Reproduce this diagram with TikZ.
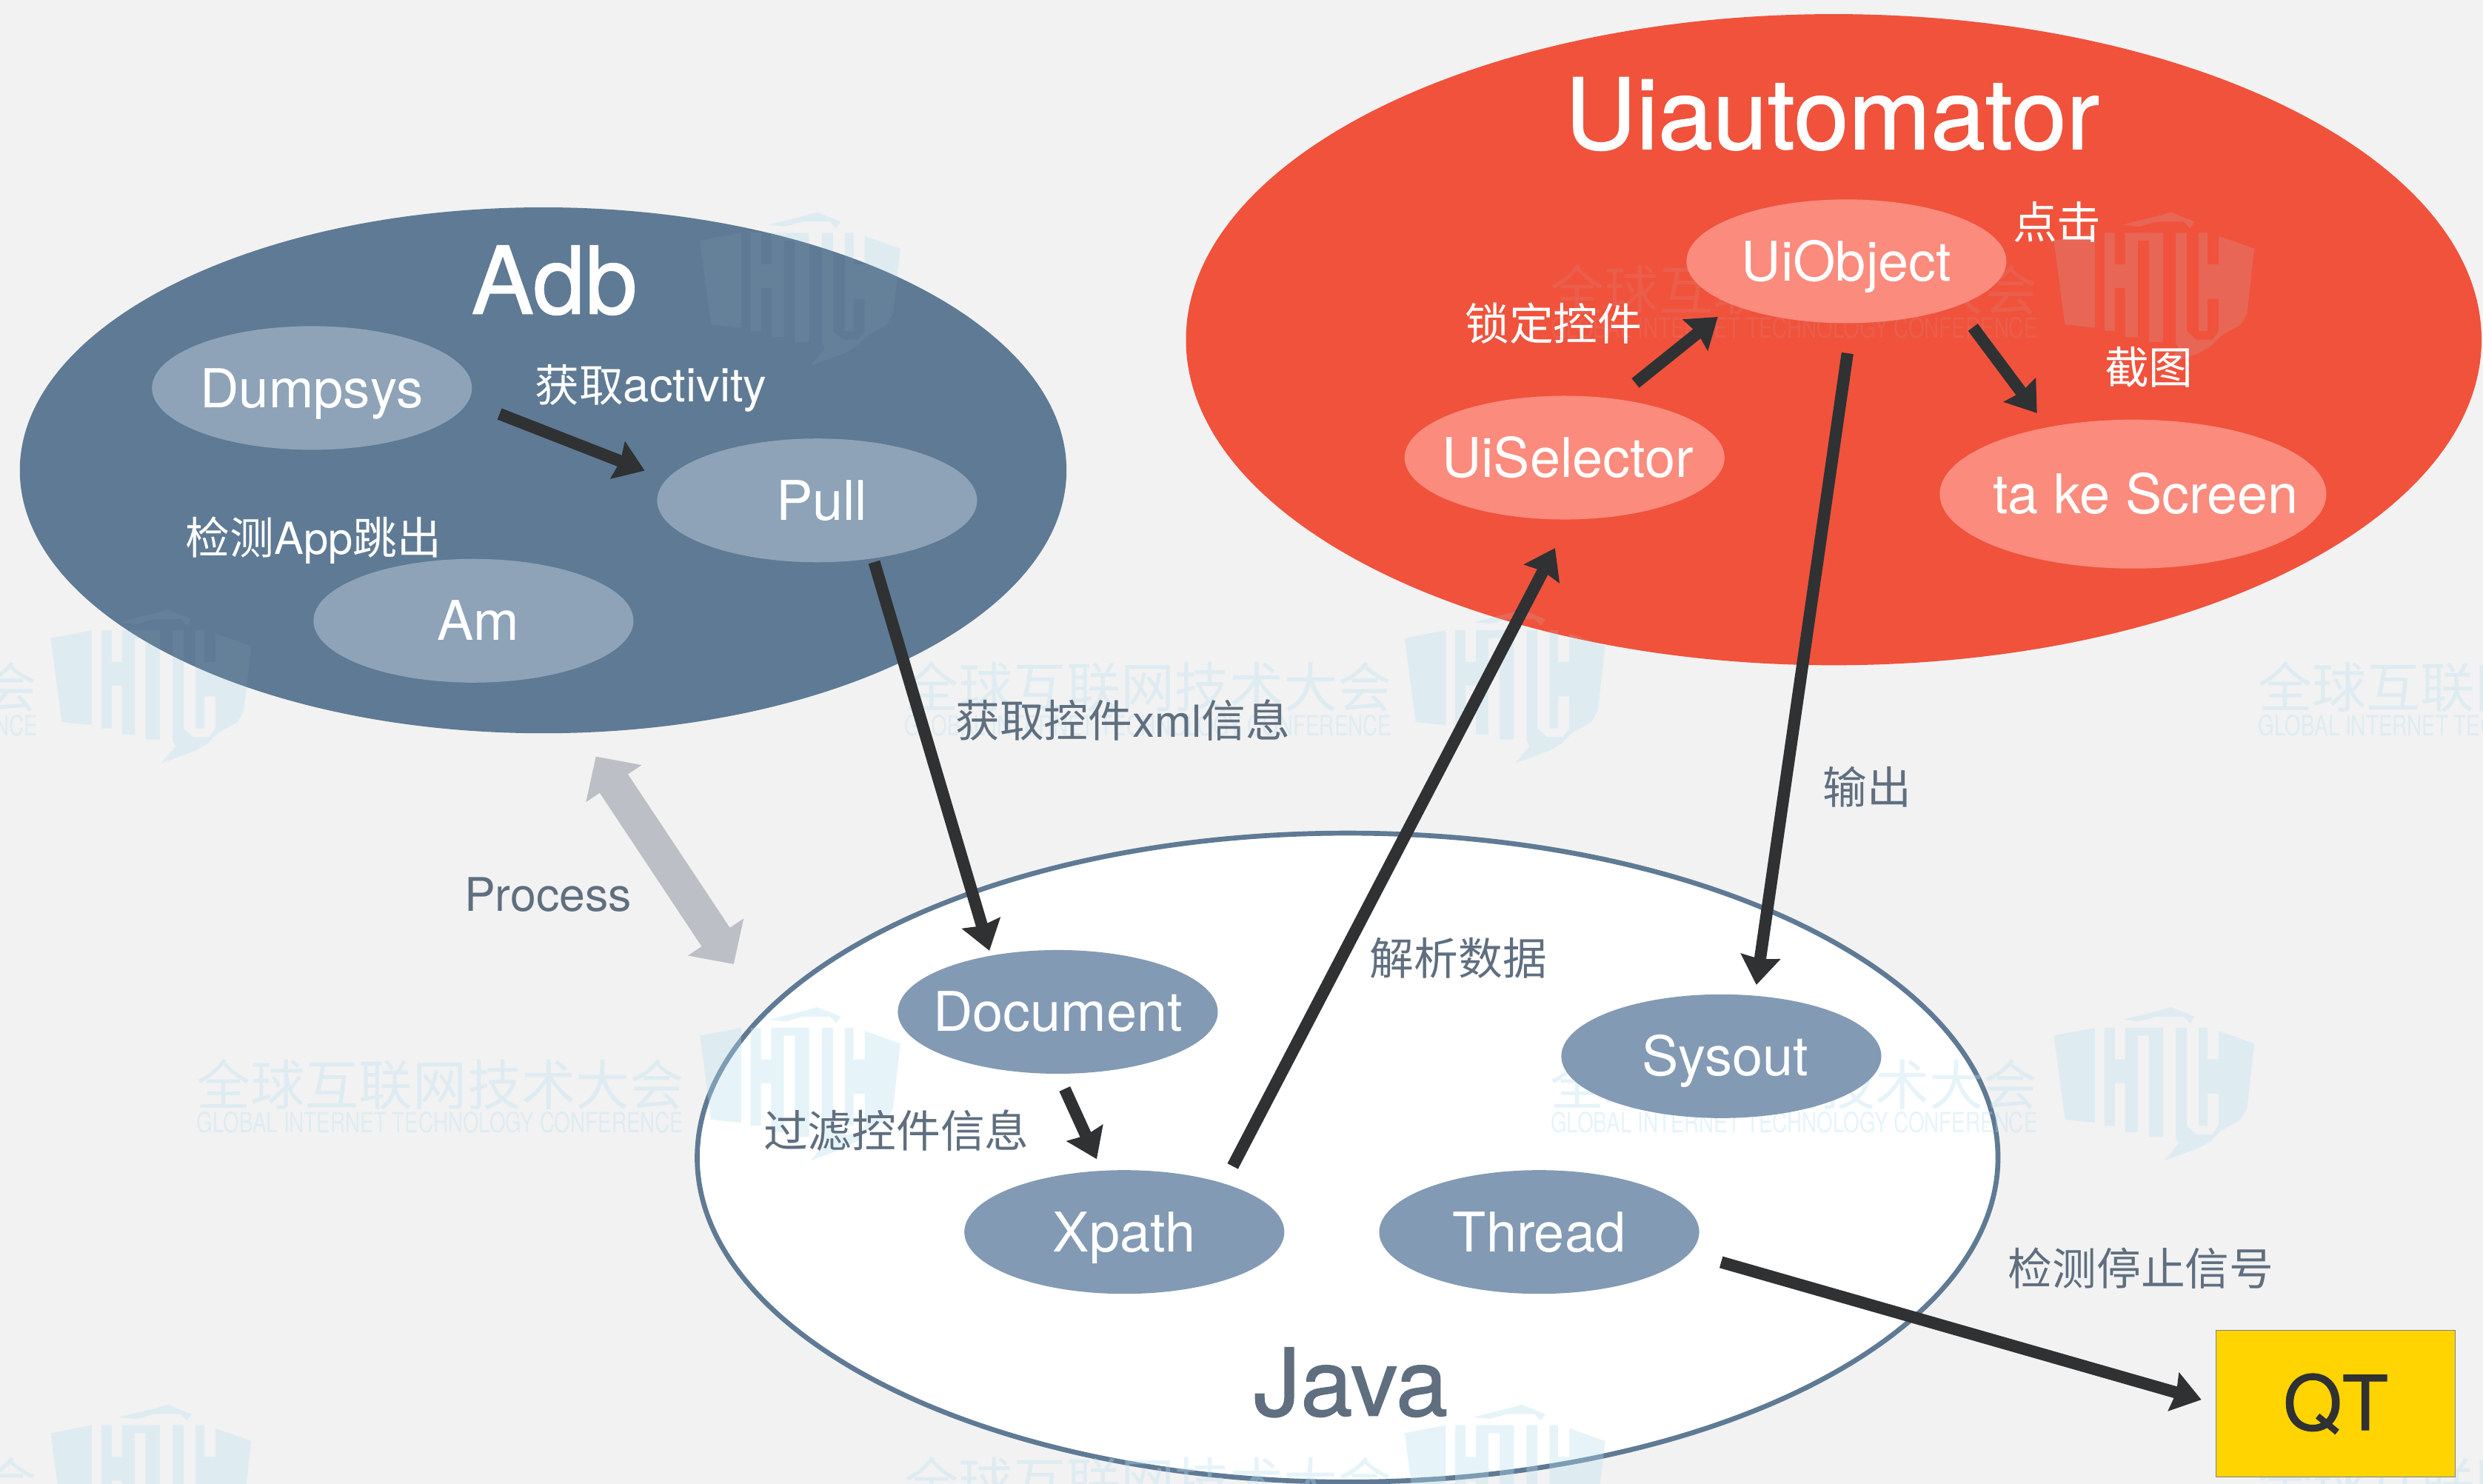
\documentclass[tikz,border=0pt]{standalone}
\usepackage{fontspec}
\setmainfont{TeX Gyre Heros}
\newfontfamily\cjk{Noto Sans CJK SC}
\newfontfamily\titlefont[FakeBold=1]{TeX Gyre Heros}
\usetikzlibrary{shapes.geometric,arrows.meta}

\definecolor{pagebg}{HTML}{F2F2F2}
\definecolor{adbblue}{HTML}{5F7A94}
\definecolor{adbinner}{HTML}{8EA3B8}
\definecolor{javainner}{HTML}{839AB4}
\definecolor{uired}{HTML}{F0523C}
\definecolor{uiinner}{HTML}{FA8B7D}
\definecolor{labelgray}{HTML}{5F6F80}
\definecolor{arrowdark}{HTML}{2F3133}
\definecolor{processgray}{HTML}{BCC0C6}
\definecolor{qtyellow}{HTML}{FFD400}
\definecolor{markblue}{HTML}{B9E1F2}

\newcommand{\ovaltext}[1]{\makebox[0pt]{#1}}
\newcommand{\marklogo}[3]{%
  \fill[markblue,opacity=#3,shift={(#1,#2)}]
    (-63,-31) -- (-37,-36) -- (-37,24) -- (-56,22) -- cycle
    (-31,-36) rectangle (-24.5,26)
    (-24.5,-16) rectangle (-18,-1)
    (-18,-36) rectangle (-10,30)
    (-10,-36) rectangle (-3,-31)
    (-3,-36) rectangle (6,33)
    (14,-36) rectangle (21,26)
    (-20,-41) -- (4,-47) -- (11,-49) -- (26,-43) -- (23,-39) -- (19,-43) -- (2,-43) -- (-9,-40) -- cycle
    (28.5,-36) rectangle (34,26)
    (41,-34) -- (63.6,-26) -- (59,15) -- (55,22) -- (42.6,29) -- (36.3,35.4) -- (28.5,40) -- (6.7,48) -- (16,37) -- (14,34) -- (14,26) -- (21,26) -- (27,31.5) -- (37,31.5) -- (41,26) -- (41,5.8) -- (34,5.8) -- (34,-16) -- (41,-16) -- cycle;}

\tikzset{
  bigoval/.style={ellipse,inner sep=0pt,outer sep=0pt},
  oval/.style={ellipse,inner sep=0pt,outer sep=0pt,minimum width=4.32cm,minimum height=1.67cm,
    text=white,text height=15pt,text depth=0pt,font=\fontsize{21}{25}\selectfont},
  adboval/.style={oval,fill=adbinner},
  javaoval/.style={oval,fill=javainner},
  uioval/.style={oval,fill=uiinner},
  titletext/.style={font=\titlefont\fontsize{36}{42}\selectfont},
  lightlabel/.style={text=white,font=\fontsize{17}{21}\selectfont},
  darklabel/.style={text=labelgray,font=\fontsize{17}{21}\selectfont},
  flow/.style={-{Stealth[length=11pt,width=15pt,inset=1pt]},line width=4.6pt,draw=arrowdark},
  processarrow/.style={{Triangle[length=12.5pt,width=25pt]}-{Triangle[length=12.5pt,width=25pt]},
    line width=13pt,draw=processgray},
  markcn/.style={text=markblue,font=\cjk\fontsize{20.8}{24}\selectfont},
  marken/.style={text=markblue},
}

\begin{document}
\begin{tikzpicture}[x=0.02138cm,y=-0.02138cm]

      \useasboundingbox (0,0) rectangle (1568,937);
      \clip (0,0) rectangle (1568,937);
      \fill[pagebg] (0,0) rectangle (1568,937);

      \node[bigoval,fill=white,draw=adbblue,line width=1.9pt,minimum width=17.56cm,minimum height=8.76cm] (java) at (851,731) {};

      % watermark, under the two coloured ovals
      \foreach \rowY/\logoA/\logoB in {183/505/1360,434/95/950,685/505/1360,936/95/950} {
        \marklogo{\logoA}{\rowY}{.35}
        \marklogo{\logoB}{\rowY}{.35}
      }
      \foreach \markX/\rowY in {-130/434,725/434,1580/434,278/685,1133/685,-130/936,725/936,1580/936} {
        \node[markcn,text opacity=.35] (markcn\markX\rowY) at (\markX,\rowY) {全球互联网技术大会};
        \node[marken,text opacity=.35] (marken\markX\rowY) at (\markX,\rowY+24) {\resizebox{187pt}{8pt}{GLOBAL INTERNET TECHNOLOGY CONFERENCE}};
      }

      \node[bigoval,fill=adbblue,minimum width=14.13cm,minimum height=7.1cm] (adb) at (343,297) {};
      \node[bigoval,fill=uired,minimum width=17.49cm,minimum height=8.79cm] (uiautomator) at (1158,214.5) {};

      % watermark again, faint on the coloured ovals
      \begin{scope}
        \clip (343,297) ellipse [x radius=330,y radius=166];
        \marklogo{505}{183}{.07}
        \marklogo{95}{434}{.07}
      \end{scope}
      \begin{scope}
        \clip (1158,214.5) ellipse [x radius=409,y radius=205.5];
        \marklogo{1360}{183}{.14}
        \marklogo{950}{434}{.14}
        \node[markcn,text opacity=.09] (markcnred) at (1133,183) {全球互联网技术大会};
        \node[marken,text opacity=.09] (markenred) at (1133,207) {\resizebox{187pt}{8pt}{GLOBAL INTERNET TECHNOLOGY CONFERENCE}};
      \end{scope}

      % titles
      \node[titletext,text=white] (adbtitle) at (350,177) {Adb};
      \node[titletext,text=white,font=\titlefont\fontsize{37.8}{44}\selectfont] (uititle) at (1157,72) {Uiautomator};
      \node[titletext,text=labelgray] (javatitle) at (853,873) {Java};

      % inner ovals
      \node[adboval] (dumpsys) at (197,245) {\ovaltext{\fontsize{20.6}{25}\selectfont Dumpsys}};
      \node[adboval] (pull) at (516,316) {\ovaltext{\hspace{3.6pt}Pull}};
      \node[adboval] (am) at (299,392) {\ovaltext{\hspace{3.6pt}Am}};
      \node[javaoval] (document) at (668,639) {\ovaltext{Document}};
      \node[javaoval] (xpath) at (710,778) {\ovaltext{Xpath}};
      \node[javaoval] (thread) at (972,778) {\ovaltext{Thread}};
      \node[javaoval] (sysout) at (1087,667) {\ovaltext{\hspace{3pt}Sysout}};
      \node[uioval] (uiobject) at (1166,165) {\ovaltext{UiObject}};
      \node[uioval] (uiselector) at (988,289) {\ovaltext{\hspace{2.4pt}UiSelector}};
      \node[uioval,minimum width=5.22cm,minimum height=2.01cm] (screen) at (1347,312) {\ovaltext{\hspace{9.7pt}ta ke Screen}};

      \node[rectangle,fill=qtyellow,draw=gray,line width=.4pt,inner sep=0pt,minimum width=3.228cm,minimum height=1.978cm,text=arrowdark,font=\titlefont\fontsize{29}{34}\selectfont] (qt) at (1475,886.5) {QT};

      % labels
      \node[lightlabel] (activitylabel) at (411,245) {{\cjk 获取}{\fontsize{18}{21}\selectfont activity}};
      \node[lightlabel] (applabel) at (198,341) {{\cjk 检测}App{\cjk 跳出}};
      \node[darklabel] (xmllabel) at (709,455) {{\cjk 获取控件}xml{\cjk 信息}};
      \node[darklabel] (filterlabel) at (566,714) {\cjk 过滤控件信息};
      \node[darklabel] (parselabel) at (921,605) {\cjk 解析数据};
      \node[darklabel] (outlabel) at (1179,497) {\cjk 输出};
      \node[lightlabel] (locklabel) at (981,204) {\cjk 锁定控件};
      \node[lightlabel] (clicklabel) at (1299,140) {\cjk 点击};
      \node[lightlabel] (shotlabel) at (1357,232) {\cjk 截图};
      \node[darklabel] (stoplabel) at (1352,801) {\cjk 检测停止信号};
      \node[darklabel,font=\fontsize{17.8}{21}\selectfont] (processlabel) at (346,565) {Process};

      % connectors
      \draw[processarrow,shorten <=11pt,shorten >=22.3pt] (adb.-82) -- (java.166.7);
      \draw[flow,shorten <=13pt,shorten >=9.1pt] (dumpsys.-5.5) -- (pull.172);
      \draw[flow,shorten <=1.5pt,shorten >=2pt] (pull.-46) -- (document.140);
      \draw[flow,shorten <=6.4pt,shorten >=4.9pt] (document.south) -- (xpath.110);
      \draw[flow,shorten <=7.5pt,shorten >=12.4pt] (xpath.26.8) -- (uiselector.-85);
      \draw[flow,shorten <=11.7pt,shorten >=4.2pt] (uiobject.-85) -- (sysout.61);
      \draw[flow,shorten <=9.8pt,shorten >=7.4pt] (uiselector.49.7) -- (uiobject.201);
      \draw[flow,shorten <=10.2pt,shorten >=6.8pt] (uiobject.-22.4) -- (screen.142.8);
      \draw[flow,shorten <=12.6pt,shorten >=5.7pt] (thread.-8) -- (qt.west);

\end{tikzpicture}
\end{document}
